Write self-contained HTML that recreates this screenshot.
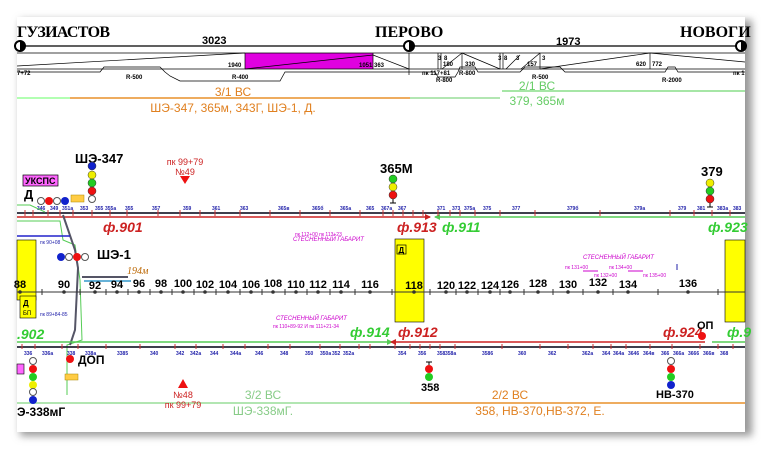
<!DOCTYPE html>
<html><head><meta charset="utf-8"><style>
html,body{margin:0;padding:0;background:#fff;}
svg{display:block;font-family:"Liberation Sans",sans-serif;}
</style></head><body>
<svg width="761" height="449" viewBox="0 0 761 449" xmlns="http://www.w3.org/2000/svg">
<defs><filter id="sh" x="-5%" y="-5%" width="110%" height="115%"><feGaussianBlur stdDeviation="4"/></filter></defs>
<rect x="0" y="0" width="761" height="449" fill="#fff"/>
<rect x="20" y="20" width="732" height="416" fill="#999" filter="url(#sh)"/>
<rect x="17" y="17" width="728" height="415" fill="#fff"/>

<g font-family="Liberation Serif,serif" font-weight="bold" font-size="16" fill="#000">
<text x="17" y="37" textLength="93">ГУЗИАСТОВ</text><text x="375" y="37">ПЕРОВО</text><text x="680" y="37">НОВОГИ</text></g>
<g font-size="11" font-weight="bold"><text x="202" y="44">3023</text><text x="556" y="45">1973</text></g>
<line x1="17" y1="46" x2="745" y2="46" stroke="#000" stroke-width="1.2"/>
<circle cx="20" cy="46" r="5" fill="#fff" stroke="#000" stroke-width="2"/><path d="M20 41 a5 5 0 0 1 0 10z" fill="#000"/>
<circle cx="409" cy="46" r="5" fill="#fff" stroke="#000" stroke-width="2"/><path d="M409 41 a5 5 0 0 1 0 10z" fill="#000"/>
<circle cx="741" cy="46" r="5" fill="#fff" stroke="#000" stroke-width="2"/><path d="M741 41 a5 5 0 0 1 0 10z" fill="#000"/>
<rect x="245" y="53" width="128" height="16" fill="#e000e0"/>
<g stroke="#000" stroke-width="0.7" fill="none">
<line x1="17" y1="53" x2="745" y2="53"/><line x1="17" y1="69" x2="745" y2="69"/>
<line x1="17" y1="66" x2="245" y2="53"/><line x1="245" y1="69" x2="373" y2="55"/>
<line x1="245" y1="53" x2="245" y2="69"/><line x1="373" y1="53" x2="373" y2="69"/>
<line x1="373" y1="55" x2="409" y2="69"/><line x1="409" y1="53" x2="409" y2="75"/>
<line x1="438" y1="53" x2="438" y2="69"/><line x1="441" y1="53" x2="441" y2="69"/><line x1="442" y1="69" x2="462" y2="53"/><line x1="462" y1="53" x2="500" y2="69"/><line x1="462" y1="53" x2="462" y2="69"/>
<line x1="500" y1="53" x2="500" y2="69"/><line x1="503" y1="53" x2="503" y2="69"/><line x1="506" y1="69" x2="520" y2="55"/><line x1="521" y1="69" x2="540" y2="53"/><line x1="540" y1="53" x2="540" y2="69"/>
<line x1="540" y1="69" x2="650" y2="53"/><line x1="650" y1="53" x2="650" y2="69"/><line x1="650" y1="53" x2="745" y2="62"/>
<path d="M17 72 L100 72 L104 67 L160 67 L165 72 L170 76 L180 81 L280 81 L285 72 L435 72 L438 77 L455 77 L458 72 L460 67 L475 67 L478 72 L520 72 L525 67 L560 67 L565 72 L665 72 L668 67 L675 67 L678 72 L745 72"/>
</g>
<g font-size="6" fill="#000" font-weight="bold">
<text x="228" y="67">1940</text><text x="359" y="67">1051</text><text x="374" y="67">363</text><text x="17" y="75">7+72</text>
<text x="126" y="79">R-500</text><text x="232" y="79">R-400</text><text x="422" y="75">пк 117+81</text><text x="436" y="82">R-800</text><text x="459" y="75">R-800</text>
<text x="532" y="79">R-500</text><text x="662" y="82">R-2000</text><text x="733" y="75">пк 1</text>
<text x="443" y="66">180</text><text x="465" y="66">330</text><text x="527" y="66">157</text><text x="636" y="66">620</text><text x="652" y="66">772</text>
<text x="438" y="60">3</text><text x="444" y="60">8</text><text x="498" y="60">3</text><text x="504" y="60">8</text><text x="516" y="60">3</text><text x="542" y="60">3</text>
</g>
<line x1="17" y1="98" x2="70" y2="98" stroke="#9f9" stroke-width="1.5"/>
<line x1="70" y1="98" x2="410" y2="98" stroke="#e8902a" stroke-width="1.5"/>
<line x1="410" y1="98" x2="500" y2="98" stroke="#9d9" stroke-width="1.5"/>
<line x1="502" y1="91" x2="745" y2="91" stroke="#8d8" stroke-width="1.5"/>
<g font-size="12" text-anchor="middle"><text x="233" y="96" fill="#e08020">3/1 ВС</text><text x="233" y="112" fill="#e08020">ШЭ-347, 365м, 343Г, ШЭ-1, Д.</text>
<text x="537" y="90" fill="#6c6">2/1 ВС</text><text x="537" y="105" fill="#6c6">379, 365м</text>
<text x="263" y="399" fill="#8c8">3/2 ВС</text><text x="263" y="415" fill="#8c8">ШЭ-338мГ.</text>
<text x="510" y="399" fill="#e08020">2/2 ВС</text><text x="540" y="415" fill="#e08020">358, НВ-370,НВ-372, Е.</text></g>
<line x1="17" y1="403" x2="410" y2="403" stroke="#9d9" stroke-width="1.5"/>
<line x1="410" y1="403" x2="745" y2="403" stroke="#e8902a" stroke-width="1.5"/>

<rect x="17" y="240" width="19" height="60" fill="#ff0" stroke="#000" stroke-width="0.6"/>
<rect x="395" y="239" width="29" height="83" fill="#ff0" stroke="#000" stroke-width="0.6"/>
<rect x="397" y="245" width="9" height="9" fill="none" stroke="#000" stroke-width="0.7"/><text x="398.5" y="253" font-size="8" font-weight="bold">Д</text>
<rect x="725" y="240" width="20" height="82" fill="#ff0" stroke="#000" stroke-width="0.6"/>
<rect x="20" y="296" width="16" height="22" fill="#ff0" stroke="#000" stroke-width="0.6"/><text x="23" y="306" font-size="8" font-weight="bold">Д</text><text x="23" y="315" font-size="6">БП</text>

<line x1="17" y1="213" x2="745" y2="213" stroke="#223" stroke-width="1.8"/>
<line x1="17" y1="217" x2="430" y2="217" stroke="#c22" stroke-width="1.5"/>
<line x1="435" y1="217" x2="745" y2="217" stroke="#5c5" stroke-width="1.5"/>
<path d="M425 214 L431 217 L425 220z" fill="#c22"/><path d="M440 214 L434 217 L440 220z" fill="#5c5"/>
<g stroke="#c33" stroke-width="1">
<path d="M25 210V216M33 210V216M48 210V216M60 210V216M73 210V216M92 210V216M110 210V216M127 210V216M158 210V216M180 210V216M200 210V216M215 210V216M240 210V216M270 210V216M300 210V216M330 210V216M360 210V216M383 210V216M393 210V216M403 210V216M413 210V216M423 210V216M438 210V216M450 210V216M460 210V216M475 210V216M500 210V216M535 210V216M600 210V216M670 210V216M694 210V216M712 210V216M730 210V216"/></g>
<g font-size="5" fill="#22a" font-weight="bold">
<text x="37" y="210">346</text><text x="50" y="210">349</text><text x="62" y="210">351a</text><text x="80" y="210">353</text><text x="95" y="210">355</text><text x="105" y="210">355a</text><text x="125" y="210">355</text><text x="152" y="210">357</text><text x="183" y="210">359</text><text x="212" y="210">361</text><text x="240" y="210">363</text><text x="278" y="210">365в</text><text x="312" y="210">365б</text><text x="340" y="210">365a</text><text x="366" y="210">365</text><text x="381" y="210">367a</text><text x="398" y="210">367</text><text x="437" y="210">371</text><text x="452" y="210">373</text><text x="464" y="210">375a</text><text x="483" y="210">375</text><text x="512" y="210">377</text><text x="567" y="210">379б</text><text x="634" y="210">379a</text><text x="678" y="210">379</text><text x="697" y="210">381</text><text x="717" y="210">383a</text><text x="733" y="210">383</text></g>
<g font-size="14" font-style="italic" font-weight="bold">
<text x="103" y="232" fill="#c22">ф.901</text><text x="397" y="232" fill="#c22">ф.913</text><text x="442" y="232" fill="#3c3">ф.911</text><text x="708" y="232" fill="#3c3">ф.923</text>
<text x="17" y="339" fill="#3c3">.902</text><text x="350" y="337" fill="#3c3">ф.914</text><text x="398" y="337" fill="#c22">ф.912</text><text x="663" y="337" fill="#c22">ф.924</text><text x="727" y="337" fill="#3c3">ф.9</text></g>

<g font-weight="bold" font-size="13"><text x="75" y="163">ШЭ-347</text><text x="380" y="173">365М</text><text x="701" y="176">379</text>
<text x="97" y="259">ШЭ-1</text></g>
<circle cx="92" cy="166" r="4" fill="#12c" stroke="#333" stroke-width=".5"/><circle cx="92" cy="175" r="4" fill="#ee0" stroke="#333" stroke-width=".5"/><circle cx="92" cy="183" r="4" fill="#2c2" stroke="#333" stroke-width=".5"/><circle cx="92" cy="191" r="4" fill="#e11" stroke="#333" stroke-width=".5"/><circle cx="92" cy="199" r="3.5" fill="#fff" stroke="#555"/>
<circle cx="393" cy="179" r="4" fill="#2c2" stroke="#333" stroke-width=".5"/><circle cx="393" cy="187" r="4" fill="#ee0" stroke="#333" stroke-width=".5"/><circle cx="393" cy="195" r="4" fill="#e11" stroke="#333" stroke-width=".5"/><path d="M393 199V203M390 203H396" stroke="#000"/>
<circle cx="710" cy="183" r="4" fill="#ee0" stroke="#333" stroke-width=".5"/><circle cx="710" cy="191" r="4" fill="#2c2" stroke="#333" stroke-width=".5"/><circle cx="710" cy="199" r="4" fill="#e11" stroke="#333" stroke-width=".5"/><path d="M710 203V207M707 207H713" stroke="#000"/>
<rect x="23" y="175" width="35" height="11" fill="#f6f" stroke="#000" stroke-width=".7"/><text x="25" y="184" font-size="9" font-weight="bold">УКСПС</text>
<text x="24" y="199" font-size="13" font-weight="bold">Д</text>
<circle cx="41" cy="201" r="3.5" fill="#fff" stroke="#555"/><circle cx="49" cy="201" r="4" fill="#e11"/><circle cx="57" cy="201" r="3.5" fill="#fff" stroke="#555"/><circle cx="65" cy="201" r="4" fill="#12c"/>
<rect x="71" y="195" width="13" height="7" fill="#fc4" stroke="#a80" stroke-width=".5"/>
<path d="M180 176 L190 176 L185 184z" fill="#e11"/><text x="185" y="165" font-size="9" fill="#c22" text-anchor="middle">пк 99+79</text><text x="185" y="175" font-size="9" fill="#c22" text-anchor="middle">№49</text>
<text x="295" y="236" font-size="5" fill="#c0c">пк 112+00 пк 113+23</text><text x="293" y="241" font-size="6" fill="#c0c" font-style="italic">СТЕСНЕННЫЙ ГАБАРИТ</text>
<text x="583" y="259" font-size="6" fill="#c0c" font-style="italic">СТЕСНЕННЫЙ ГАБАРИТ</text>
<text x="565" y="269" font-size="5" fill="#c0c">пк 131+00</text><text x="609" y="269" font-size="5" fill="#c0c">пк 134+00</text><text x="594" y="277" font-size="5" fill="#c0c">пк 132+00</text><text x="643" y="277" font-size="5" fill="#c0c">пк 135+00</text>
<path d="M583 271H598M628 271H643" stroke="#c0c"/><path d="M677 264V270" stroke="#22a"/>
<text x="276" y="320" font-size="6" fill="#c0c" font-style="italic">СТЕСНЕННЫЙ ГАБАРИТ</text><text x="273" y="328" font-size="5" fill="#c0c">пк 110+89-92 И пк 111+21-34</text>

<path d="M17 205 L30 205 L45 212 M17 221 L60 221 L63 240 L75 245 L80 280 L82 340 L67 345 L67 395" stroke="#5c5" fill="none"/>
<path d="M63 215 L75 250 L78 268 L75 330 L70 345" stroke="#556" stroke-width="2" fill="none"/>
<line x1="17" y1="236" x2="70" y2="236" stroke="#22c" stroke-width="1.5"/>
<line x1="82" y1="277" x2="128" y2="277" stroke="#556" stroke-width="2"/><line x1="84" y1="281" x2="131" y2="281" stroke="#39c" stroke-width="1.5"/>
<text x="127" y="274" font-size="10" font-style="italic" fill="#b60" font-family="Liberation Serif,serif">194м</text>
<circle cx="61" cy="257" r="4" fill="#12c"/><circle cx="69" cy="257" r="3.5" fill="#fff" stroke="#555"/><circle cx="77" cy="257" r="4" fill="#e11"/><circle cx="85" cy="257" r="3.5" fill="#fff" stroke="#555"/>
<text x="40" y="244" font-size="5" fill="#22a">пк 90+08</text><text x="40" y="316" font-size="5" fill="#22a">пк 89+84-85</text>

<line x1="17" y1="292" x2="745" y2="292" stroke="#333" stroke-width="1"/>
<g font-size="11" font-weight="bold" text-anchor="middle" fill="#000">
<text x="20" y="288">88</text><text x="64" y="288">90</text><text x="95" y="289">92</text><text x="117" y="288">94</text><text x="139" y="287">96</text><text x="161" y="287">98</text><text x="183" y="287">100</text><text x="205" y="288">102</text><text x="228" y="288">104</text><text x="251" y="288">106</text><text x="273" y="287">108</text><text x="296" y="288">110</text><text x="318" y="288">112</text><text x="341" y="288">114</text><text x="370" y="288">116</text>
<text x="414" y="289">118</text><text x="446" y="289">120</text><text x="467" y="289">122</text><text x="490" y="289">124</text><text x="510" y="288">126</text><text x="538" y="287">128</text><text x="568" y="288">130</text><text x="598" y="286">132</text><text x="628" y="288">134</text><text x="688" y="287">136</text></g>
<g fill="#333"><circle cx="20" cy="292" r="1.8"/><circle cx="64" cy="292" r="1.8"/><circle cx="95" cy="292" r="1.8"/><circle cx="117" cy="292" r="1.8"/><circle cx="139" cy="292" r="1.8"/><circle cx="161" cy="292" r="1.8"/><circle cx="183" cy="292" r="1.8"/><circle cx="205" cy="292" r="1.8"/><circle cx="228" cy="292" r="1.8"/><circle cx="251" cy="292" r="1.8"/><circle cx="273" cy="292" r="1.8"/><circle cx="296" cy="292" r="1.8"/><circle cx="318" cy="292" r="1.8"/><circle cx="341" cy="292" r="1.8"/><circle cx="370" cy="292" r="1.8"/><circle cx="414" cy="292" r="1.8"/><circle cx="446" cy="292" r="1.8"/><circle cx="467" cy="292" r="1.8"/><circle cx="490" cy="292" r="1.8"/><circle cx="510" cy="292" r="1.8"/><circle cx="538" cy="292" r="1.8"/><circle cx="568" cy="292" r="1.8"/><circle cx="598" cy="292" r="1.8"/><circle cx="628" cy="292" r="1.8"/><circle cx="688" cy="292" r="1.8"/></g>
<g stroke="#333"><path d="M42 289V295M80 289V295M106 289V295M128 289V295M150 289V295M172 289V295M194 289V295M216 289V295M240 289V295M262 289V295M285 289V295M307 289V295M330 289V295M355 289V295M392 289V295M430 289V295M456 289V295M478 289V295M500 289V295M524 289V295M553 289V295M583 289V295M613 289V295M658 289V295M718 289V295"/></g>

<line x1="17" y1="342" x2="390" y2="342" stroke="#5c5" stroke-width="1.5"/>
<line x1="390" y1="342" x2="705" y2="342" stroke="#c22" stroke-width="1.5"/>
<line x1="712" y1="342" x2="745" y2="342" stroke="#5c5" stroke-width="1.5"/>
<line x1="17" y1="347" x2="745" y2="347" stroke="#223" stroke-width="1.8"/>
<path d="M387 339 L393 342 L387 345z" fill="#5c5"/><path d="M396 339 L390 342 L396 345z" fill="#c22"/>
<g stroke="#c33"><path d="M22 344V349M35 344V349M62 344V349M78 344V349M106 344V349M140 344V349M175 344V349M196 344V349M223 344V349M245 344V349M268 344V349M290 344V349M320 344V349M340 344V349M359 344V349M370 344V349M395 344V349M410 344V349M420 344V349M430 344V349M440 344V349M455 344V349M502 344V349M540 344V349M568 344V349M593 344V349M611 344V349M626 344V349M650 344V349M672 344V349M700 344V349M718 344V349M733 344V349"/></g>
<g font-size="5" fill="#22a" font-weight="bold">
<text x="24" y="355">336</text><text x="42" y="355">336a</text><text x="67" y="355">338</text><text x="85" y="355">338a</text><text x="117" y="355">3385</text><text x="150" y="355">340</text><text x="176" y="355">342</text><text x="190" y="355">342a</text><text x="210" y="355">344</text><text x="230" y="355">344a</text><text x="255" y="355">346</text><text x="280" y="355">348</text><text x="305" y="355">350</text><text x="320" y="355">350a</text><text x="332" y="355">352</text><text x="343" y="355">352a</text><text x="398" y="355">354</text><text x="418" y="355">356</text><text x="437" y="355">358</text><text x="445" y="355">358a</text><text x="482" y="355">3586</text><text x="518" y="355">360</text><text x="548" y="355">362</text><text x="582" y="355">362a</text><text x="602" y="355">364</text><text x="613" y="355">364a</text><text x="628" y="355">3646</text><text x="643" y="355">364в</text><text x="661" y="355">366</text><text x="673" y="355">366a</text><text x="688" y="355">3666</text><text x="703" y="355">366в</text><text x="720" y="355">368</text></g>
<circle cx="33" cy="361" r="3.5" fill="#fff" stroke="#555"/><circle cx="33" cy="369" r="4" fill="#e11"/><circle cx="33" cy="377" r="4" fill="#2c2"/><circle cx="33" cy="385" r="4" fill="#ee0"/><circle cx="33" cy="392" r="3.5" fill="#fff" stroke="#555"/><circle cx="33" cy="400" r="4" fill="#12c"/>
<text x="17" y="416" font-size="12" font-weight="bold">Э-338мГ</text>
<rect x="17" y="364" width="7" height="10" fill="#f6f" stroke="#000" stroke-width=".6"/>
<circle cx="70" cy="359" r="4" fill="#e11"/><text x="78" y="364" font-size="12" font-weight="bold">ДОП</text>
<rect x="65" y="374" width="13" height="6" fill="#fc4" stroke="#a80" stroke-width=".5"/>
<path d="M178 388 L188 388 L183 379z" fill="#e11"/>
<text x="183" y="398" font-size="9" fill="#c22" text-anchor="middle">№48</text>
<text x="183" y="408" font-size="9" fill="#c22" text-anchor="middle">пк 99+79</text>
<path d="M429 362V365M426 362H432" stroke="#000"/><circle cx="429" cy="369" r="4" fill="#e11"/><circle cx="429" cy="377" r="4" fill="#2c2"/><text x="421" y="391" font-size="11" font-weight="bold">358</text>
<circle cx="671" cy="361" r="3.5" fill="#fff" stroke="#555"/><circle cx="671" cy="369" r="4" fill="#e11"/><circle cx="671" cy="377" r="4" fill="#2c2"/><circle cx="671" cy="385" r="4" fill="#12c"/><text x="656" y="398" font-size="11" font-weight="bold">НВ-370</text>
<circle cx="702" cy="336" r="4" fill="#e11"/><text x="697" y="329" font-size="11" font-weight="bold">ОП</text>
</svg>
</body></html>
